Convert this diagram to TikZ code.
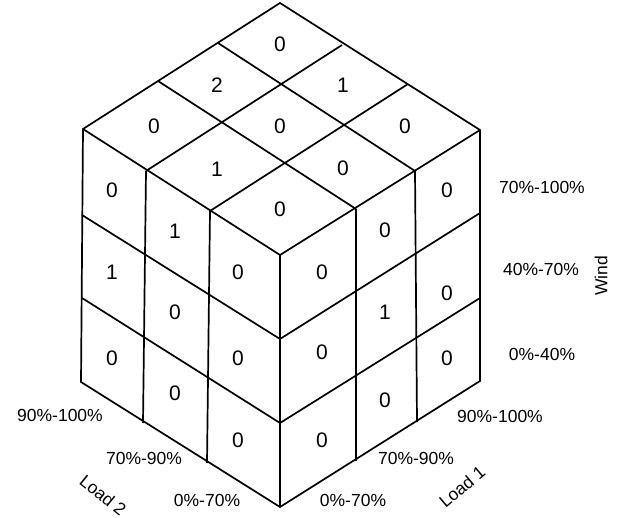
\documentclass[tikz,border=0pt]{standalone}
\usepackage{fontspec}
\setmainfont{Liberation Sans}
\begin{document}
\begin{tikzpicture}[x=1pt,y=-1pt,
  edge/.style={line width=1.7pt},
  val/.style={inner sep=0pt,font=\fontsize{21}{21}\selectfont},
  lab/.style={inner sep=0pt,font=\fontsize{17.5}{17.5}\selectfont}]
\useasboundingbox (0,0) rectangle (620,518);
% corners
\coordinate (T) at (280,3);
\coordinate (L) at (83,129);
\coordinate (R) at (480,130);
\coordinate (C) at (280,255);
\coordinate (BL) at (81,382);
\coordinate (BR) at (480,381);
\coordinate (B) at (280,507);
% outline
\draw[edge] (T) -- (R) -- (BR) -- (B) -- (BL) -- (L) -- cycle;
\draw[edge] (L) -- (C) -- (R);
\draw[edge] (C) -- (B);
% top face grid
\coordinate (ta1) at (218,43);  \coordinate (tb1) at (415,171);
\coordinate (ta2) at (158,81);  \coordinate (tb2) at (356,209);
\coordinate (tc1) at (342,45);  \coordinate (td1) at (146,171);
\coordinate (tc2) at (408,84);  \coordinate (td2) at (210,211);
\draw[edge] (ta1) -- (tb1);
\draw[edge] (ta2) -- (tb2);
\draw[edge] (tc1) -- (td1);
\draw[edge] (tc2) -- (td2);
% left face grid
\coordinate (lv1) at (143,423);
\coordinate (lv2) at (207,463);
\coordinate (lh1a) at (82,215); \coordinate (lh1b) at (280,339);
\coordinate (lh2a) at (82,298); \coordinate (lh2b) at (280,423);
\draw[edge] (td1) -- (lv1);
\draw[edge] (td2) -- (lv2);
\draw[edge] (lh1a) -- (lh1b);
\draw[edge] (lh2a) -- (lh2b);
% right face grid
\coordinate (rv1) at (356,461);
\coordinate (rv2) at (417,422);
\coordinate (rh1) at (480,213);
\coordinate (rh2) at (480,298);
\draw[edge] (tb2) -- (rv1);
\draw[edge] (tb1) -- (rv2);
\draw[edge] (lh1b) -- (rh1);
\draw[edge] (lh2b) -- (rh2);
% top values
\node[val] (t1) at (280,44) {0};
\node[val] (t2) at (217,85) {2};
\node[val] (t3) at (343,85) {1};
\node[val] (t4) at (154,126) {0};
\node[val] (t5) at (280,126) {0};
\node[val] (t6) at (405,126) {0};
\node[val] (t7) at (217,169) {1};
\node[val] (t8) at (343,168) {0};
\node[val] (t9) at (280,209) {0};
% left values
\node[val] (l1) at (112,190) {0};
\node[val] (l2) at (175,231) {1};
\node[val] (l3) at (238,272) {0};
\node[val] (l4) at (112,272) {1};
\node[val] (l5) at (175,312) {0};
\node[val] (l6) at (238,358) {0};
\node[val] (l7) at (112,358) {0};
\node[val] (l8) at (175,393) {0};
\node[val] (l9) at (238,440) {0};
% right values
\node[val] (r1) at (447,190) {0};
\node[val] (r2) at (385,230) {0};
\node[val] (r3) at (322,272) {0};
\node[val] (r4) at (447,293) {0};
\node[val] (r5) at (385,312) {1};
\node[val] (r6) at (322,352) {0};
\node[val] (r7) at (447,358) {0};
\node[val] (r8) at (385,400) {0};
\node[val] (r9) at (322,440) {0};
% wind labels
\node[lab] (w1) at (542,187) {70\%-100\%};
\node[lab] (w2) at (541,269) {40\%-70\%};
\node[lab] (w3) at (542,354) {0\%-40\%};
\node[lab,rotate=90] (wind) at (601,276) {Wind};
% load 1 labels
\node[lab] (a1) at (500,416) {90\%-100\%};
\node[lab] (a2) at (416,458) {70\%-90\%};
\node[lab] (a3) at (353,500) {0\%-70\%};
\node[lab,rotate=40] (load1) at (462,487) {Load 1};
% load 2 labels
\node[lab] (b1) at (60,415) {90\%-100\%};
\node[lab] (b2) at (144,458) {70\%-90\%};
\node[lab] (b3) at (207,500) {0\%-70\%};
\node[lab,rotate=-39] (load2) at (103,495) {Load 2};
\end{tikzpicture}
\end{document}
